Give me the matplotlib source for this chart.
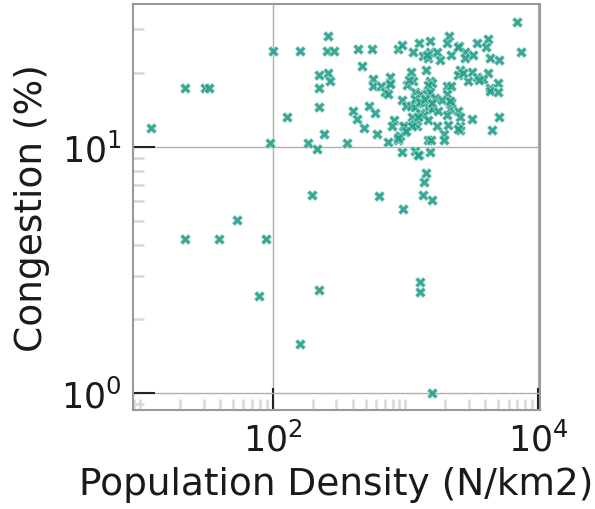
import matplotlib
matplotlib.use("Agg")
import matplotlib.pyplot as plt
import matplotlib.ticker as mticker
import numpy as np

# population density (N/km2) and congestion (%) per city
density = [
    6900, 7400, 261, 101, 160, 254, 289, 441, 556, 873,
    935, 1259, 1531, 2118, 2046, 2533, 3444, 4218, 4055, 1145,
    1349, 1531, 1738, 1820, 2215, 2811, 2811, 3214, 4345, 5105,
    1471, 472, 1101, 1429, 2577, 3160, 4218, 2500, 3444, 3866,
    2946, 222, 261, 269, 571, 767, 767, 1133, 1531, 1577,
    1471, 1033, 571, 653, 700, 734, 222, 2046, 2193, 4345,
    4345, 4966, 4966, 1180, 1286, 1450, 1531, 2046, 1670, 1875,
    2203, 935, 1004, 1101, 1362, 1180, 1471, 1592, 1286, 1115,
    1387, 2168, 2500, 2577, 2046, 3160, 5105, 222, 400, 428,
    533, 589, 128, 823, 791, 962, 1145, 1215, 1471, 1718,
    2104, 2577, 2577, 4521, 489, 612, 996, 897, 244, 741,
    873, 1486, 1556, 1963, 1963, 95, 183, 362, 216, 935,
    1180, 1259, 1531, 1429, 1387, 1349, 196, 631,
    12.1, 21.8, 31, 33, 21.8, 39, 54, 88.5, 78, 962,
    1577, 222, 1294, 1294, 160, 1577,
    969, 911, 2720, 3600, 1450, 1066, 2500, 2220, 2168, 2500,
    1180, 1115, 1240, 1004, 880, 760, 1180, 1286, 1410, 1580,
    1250, 1750,
]
congestion = [
    32.0, 24.2, 28.2, 24.5, 24.5, 24.5, 24.5, 25.0, 25.0, 25.0,
    25.9, 26.4, 26.9, 28.3, 26.4, 25.8, 26.4, 27.3, 25.4, 24.2,
    23.3, 24.2, 24.2, 22.5, 23.7, 24.2, 22.9, 23.7, 22.9, 22.5,
    22.9, 21.3, 20.2, 20.6, 20.6, 20.2, 19.9, 19.5, 19.2, 18.9,
    18.5, 19.5, 19.9, 18.5, 18.9, 19.2, 18.2, 18.5, 18.5, 18.2,
    17.9, 17.9, 17.6, 17.6, 16.7, 16.4, 17.3, 17.6, 17.6, 17.3,
    16.9, 18.2, 16.7, 16.7, 16.4, 16.4, 16.7, 16.4, 15.8, 15.5,
    15.2, 15.5, 14.7, 14.7, 15.0, 14.5, 14.5, 14.2, 13.7, 13.2,
    13.5, 14.2, 14.0, 13.2, 13.5, 13.0, 13.2, 14.5, 14.0, 13.0,
    14.7, 13.7, 13.2, 12.8, 12.1, 12.1, 12.3, 12.1, 12.8, 12.1,
    12.3, 12.1, 11.7, 11.7, 11.9, 11.3, 11.5, 11.1, 11.3, 10.5,
    10.7, 10.7, 10.7, 11.3, 10.7, 10.4, 10.4, 10.4, 9.8, 9.5,
    9.6, 9.3, 9.5, 7.8, 7.2, 6.4, 6.4, 6.3,
    11.9, 17.3, 17.3, 17.3, 4.22, 4.22, 5.03, 4.22, 2.48, 5.6,
    6.11, 2.62, 2.82, 2.58, 1.58, 1.0,
    12.2, 11.1, 19.9, 18.7, 23.5, 18.6, 25.4, 15.0, 15.3, 11.8,
    12.4, 12.2, 9.3, 11.6, 10.9, 18.0, 15.6, 15.2, 15.6, 15.0,
    13.2, 14.0,
]

fig = plt.figure(figsize=(5.95, 5.10), dpi=100)
ax = fig.add_axes([0.2235, 0.194, 0.684, 0.796])

ax.scatter(density, congestion, marker="X", s=58, color="#25a08b",
           alpha=0.9, edgecolor="#c8e8e0", linewidth=0.4, zorder=3)

ax.set_xscale("log")
ax.set_yscale("log")
ax.set_xlim(8.8, 10350)
ax.set_ylim(0.853, 38)

ax.xaxis.set_major_locator(mticker.FixedLocator([1, 100, 10000]))
ax.yaxis.set_major_locator(mticker.FixedLocator([1, 10]))
ax.xaxis.set_minor_locator(mticker.LogLocator(base=10, subs=np.arange(1, 10), numticks=20))
ax.yaxis.set_minor_locator(mticker.LogLocator(base=10, subs=np.arange(1, 10), numticks=20))
ax.xaxis.set_minor_formatter(mticker.NullFormatter())
ax.yaxis.set_minor_formatter(mticker.NullFormatter())
ax.xaxis.set_major_formatter(mticker.LogFormatterSciNotation())
ax.yaxis.set_major_formatter(mticker.LogFormatterSciNotation())

ax.grid(True, which="major", color="#b0b0b0", linewidth=1.0, zorder=0)
ax.tick_params(which="major", direction="in", length=16, width=1.5,
               color="#222222", labelsize=25, pad=8, labelcolor="#1a1a1a")
ax.tick_params(which="minor", direction="in", length=8, width=1.8,
               color="#d8d8d8")

for sp in ax.spines.values():
    sp.set_color("#999999")
    sp.set_linewidth(1.5)

ax.set_xlabel("Population Density (N/km2)", fontsize=27, labelpad=6, color="#1a1a1a")
ax.set_ylabel("Congestion (%)", fontsize=27, labelpad=8, color="#1a1a1a")

plt.savefig("out.png", dpi=100)
plt.close()
